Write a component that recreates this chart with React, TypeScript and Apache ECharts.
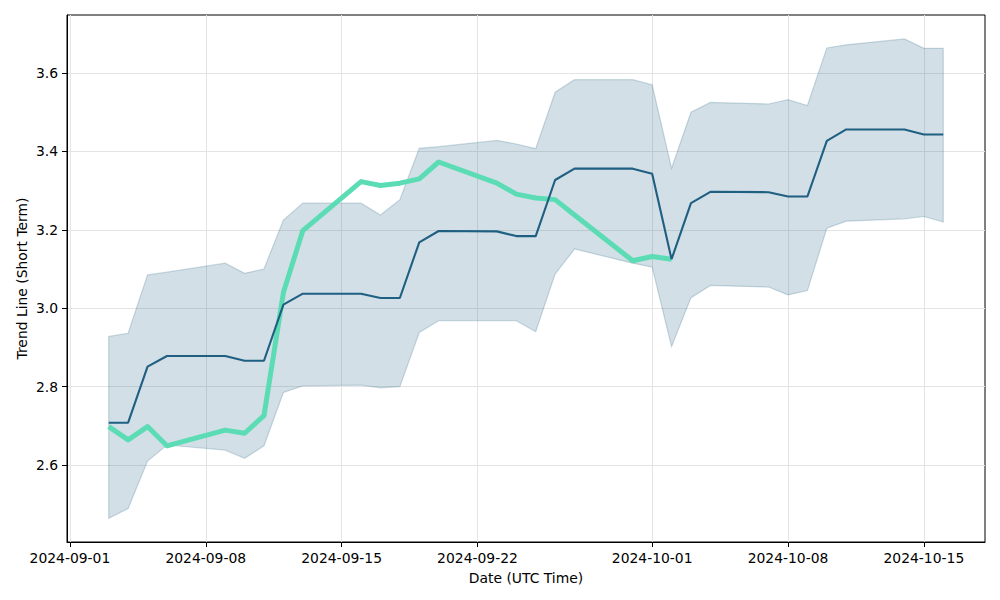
import React, { useEffect, useRef } from "react";
import * as echarts from "echarts";

const dates = [
  "2024-09-03", "2024-09-04", "2024-09-05", "2024-09-06", "2024-09-09", "2024-09-10",
  "2024-09-11", "2024-09-12", "2024-09-13", "2024-09-16", "2024-09-17", "2024-09-18",
  "2024-09-19", "2024-09-20", "2024-09-23", "2024-09-24", "2024-09-25", "2024-09-26",
  "2024-09-27", "2024-09-30", "2024-10-01", "2024-10-02", "2024-10-03", "2024-10-04",
  "2024-10-07", "2024-10-08", "2024-10-09", "2024-10-10", "2024-10-11", "2024-10-14",
  "2024-10-15", "2024-10-16",
];

const meanValues = [
  2.708, 2.708, 2.851, 2.878, 2.878, 2.866, 2.866, 3.009, 3.037, 3.037, 3.026, 3.026,
  3.168, 3.197, 3.196, 3.184, 3.184, 3.327, 3.356, 3.356, 3.343, 3.125, 3.268, 3.297,
  3.296, 3.285, 3.285, 3.427, 3.456, 3.456, 3.443, 3.443,
];

const upperValues = [
  2.928, 2.936, 3.085, 3.092, 3.115, 3.089, 3.1, 3.225, 3.268, 3.268, 3.238, 3.277,
  3.408, 3.412, 3.428, 3.419, 3.407, 3.551, 3.583, 3.583, 3.57, 3.357, 3.5, 3.525,
  3.521, 3.532, 3.517, 3.664, 3.672, 3.687, 3.663, 3.663,
];

const lowerValues = [
  2.464, 2.489, 2.61, 2.651, 2.638, 2.617, 2.649, 2.785, 2.802, 2.804, 2.797, 2.8,
  2.938, 2.968, 2.968, 2.968, 2.94, 3.087, 3.151, 3.115, 3.105, 2.902, 3.027, 3.058,
  3.054, 3.034, 3.045, 3.204, 3.222, 3.228, 3.234, 3.22,
];

// short-term trend line, Sep 3 .. Oct 2
const trendValues = [
  2.698, 2.664, 2.698, 2.649, 2.689, 2.681, 2.726, 3.04, 3.198, 3.323, 3.313, 3.319,
  3.33, 3.373, 3.319, 3.291, 3.281, 3.277, 3.238, 3.121, 3.132, 3.125,
];

const xTickDates = [
  "2024-09-01", "2024-09-08", "2024-09-15", "2024-09-22", "2024-10-01", "2024-10-08", "2024-10-15",
];
const yTicks = [2.6, 2.8, 3.0, 3.2, 3.4, 3.6];

const DAY = 86400000;
const FONT = "DejaVu Sans";

export default function App() {
  const ref = useRef<HTMLDivElement>(null);

  useEffect(() => {
    if (!ref.current) return;
    const chart = echarts.init(ref.current, null, { renderer: "svg" });
    const times = dates.map((d) => Date.parse(d + "T00:00:00Z"));
    const base = Date.parse("2024-09-01T00:00:00Z");
    const xMin = base - 0.15 * DAY;
    const xMax = base + 47.15 * DAY;
    const xTicks = xTickDates.map((d) => Date.parse(d + "T00:00:00Z"));

    const option: any = {
      animation: false,
      backgroundColor: "#ffffff",
      textStyle: { fontFamily: FONT },
      grid: {
        left: 67,
        right: 15,
        top: 15,
        bottom: 58,
        show: true,
        borderColor: "#000000",
        borderWidth: 1,
        backgroundColor: "transparent",
      },
      xAxis: {
        type: "value",
        min: xMin,
        max: xMax,
        name: "Date (UTC Time)",
        nameLocation: "middle",
        nameGap: 29,
        nameMoveOverlap: false,
        nameTextStyle: { fontFamily: FONT, fontSize: 13.9, color: "#000" },
        axisLine: { show: true, lineStyle: { color: "#000", width: 1 } },
        axisTick: {
          show: true,
          length: 5,
          inside: false,
          lineStyle: { color: "#000", width: 1 },
          customValues: xTicks,
        },
        axisLabel: {
          show: true,
          margin: 9,
          fontFamily: FONT,
          fontSize: 13.9,
          color: "#000",
          customValues: xTicks,
          hideOverlap: false,
          showMinLabel: true,
          showMaxLabel: true,
          formatter: (v: number) => new Date(v).toISOString().slice(0, 10),
        },
        splitLine: { show: true, lineStyle: { color: "#e4e4e4", width: 1 } },
      },
      yAxis: {
        type: "value",
        min: 2.4036,
        max: 3.748,
        name: "Trend Line (Short Term)",
        nameLocation: "middle",
        nameGap: 38,
        nameMoveOverlap: false,
        nameTextStyle: { fontFamily: FONT, fontSize: 13.9, color: "#000" },
        axisLine: { show: true, lineStyle: { color: "#000", width: 1 } },
        axisTick: {
          show: true,
          length: 5,
          inside: false,
          lineStyle: { color: "#000", width: 1 },
          customValues: yTicks,
        },
        axisLabel: {
          show: true,
          margin: 9,
          fontFamily: FONT,
          fontSize: 13.9,
          color: "#000",
          customValues: yTicks,
          formatter: (v: number) => v.toFixed(1),
        },
        splitLine: { show: true, lineStyle: { color: "#e4e4e4", width: 1 } },
      },
      series: [
        {
          type: "custom",
          z: 1,
          silent: true,
          data: [[times[0], upperValues[0]]],
          renderItem: (params: any, api: any) => {
            if (params.dataIndex !== 0) return null;
            const pts: number[][] = [];
            for (let i = 0; i < times.length; i++) pts.push(api.coord([times[i], upperValues[i]]));
            for (let i = times.length - 1; i >= 0; i--) pts.push(api.coord([times[i], lowerValues[i]]));
            return {
              type: "polygon",
              shape: { points: pts },
              style: {
                fill: "rgba(31,95,128,0.2)",
                stroke: "rgba(31,95,128,0.22)",
                lineWidth: 1.2,
              },
            };
          },
        },
        {
          type: "line",
          name: "Trend",
          z: 3,
          data: trendValues.map((v, i) => [times[i], v]),
          showSymbol: false,
          symbol: "none",
          lineStyle: { color: "#5cdcb4", width: 5, join: "round", cap: "butt" },
        },
        {
          type: "line",
          name: "Mean",
          z: 4,
          data: meanValues.map((v, i) => [times[i], v]),
          showSymbol: false,
          symbol: "none",
          lineStyle: { color: "#1e5f82", width: 2.1 },
        },
      ],
    };

    chart.setOption(option);
    return () => chart.dispose();
  }, []);

  return (
    <div
      ref={ref}
      style={{ position: "fixed", left: 0, top: 0, width: 1000, height: 600, background: "#fff" }}
    />
  );
}
